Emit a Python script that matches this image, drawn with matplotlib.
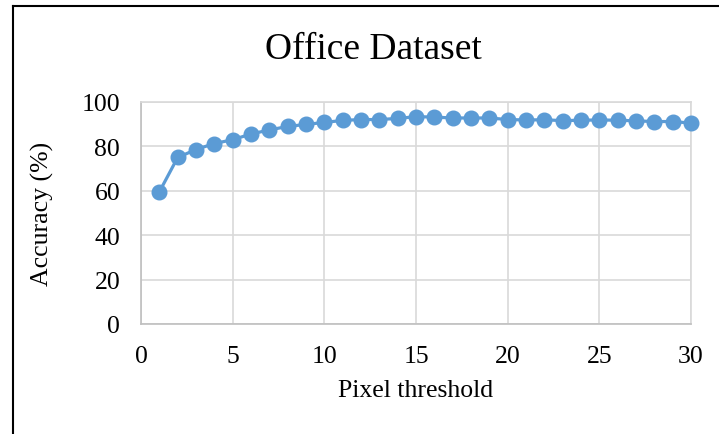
import matplotlib.pyplot as plt
from matplotlib.lines import Line2D

plt.rcParams['font.family'] = ['Liberation Serif', 'DejaVu Serif']

# pixel threshold vs accuracy
threshold = list(range(1, 31))
accuracy = [59.5, 75.0, 78.6, 81.3, 83.0, 85.6, 87.4, 89.0, 89.9, 90.8,
            91.7, 92.1, 92.1, 92.6, 93.4, 93.2, 92.8, 92.8, 92.8, 92.1,
            91.9, 92.0, 91.6, 91.8, 91.9, 91.8, 91.5, 91.2, 91.2, 90.5]

fig = plt.figure(figsize=(7.19, 4.35), dpi=100)
ax = fig.add_axes([141 / 719, 1 - 325 / 435, 550 / 719, 222 / 435])

ax.plot(threshold, accuracy, color='#5b9bd5', lw=2.3, marker='o',
        markersize=10.5, clip_on=False, zorder=3)

ax.set_xlim(0, 30)
ax.set_ylim(0, 100)
ax.set_xticks(range(0, 31, 5))
ax.set_yticks(range(0, 101, 20))
ax.grid(True, color='#d9d9d9', lw=1.2)
ax.set_axisbelow(True)
for s in ax.spines.values():
    s.set_color('#d9d9d9')
    s.set_linewidth(1.2)
ax.spines['left'].set_color('#bfbfbf')
ax.spines['bottom'].set_color('#bfbfbf')
ax.tick_params(axis='y', length=0, labelsize=18.5, pad=15)
ax.tick_params(axis='x', length=0, labelsize=18.5, pad=15)

ax.set_xlabel('Pixel threshold', fontsize=18.5, labelpad=9)
ax.set_ylabel('Accuracy (%)', fontsize=18.5, labelpad=20)
fig.text(373 / 719, 1 - 50 / 435, 'Office Dataset', fontsize=27,
         ha='center', va='center')

# outer frame (left and top edges)
fig.add_artist(Line2D([13 / 719, 13 / 719], [0, 1 - 7 / 435],
                      transform=fig.transFigure, color='black', lw=1.5))
fig.add_artist(Line2D([13 / 719, 1], [1 - 7 / 435, 1 - 7 / 435],
                      transform=fig.transFigure, color='black', lw=1.5))

fig.savefig('out.png', dpi=100)
